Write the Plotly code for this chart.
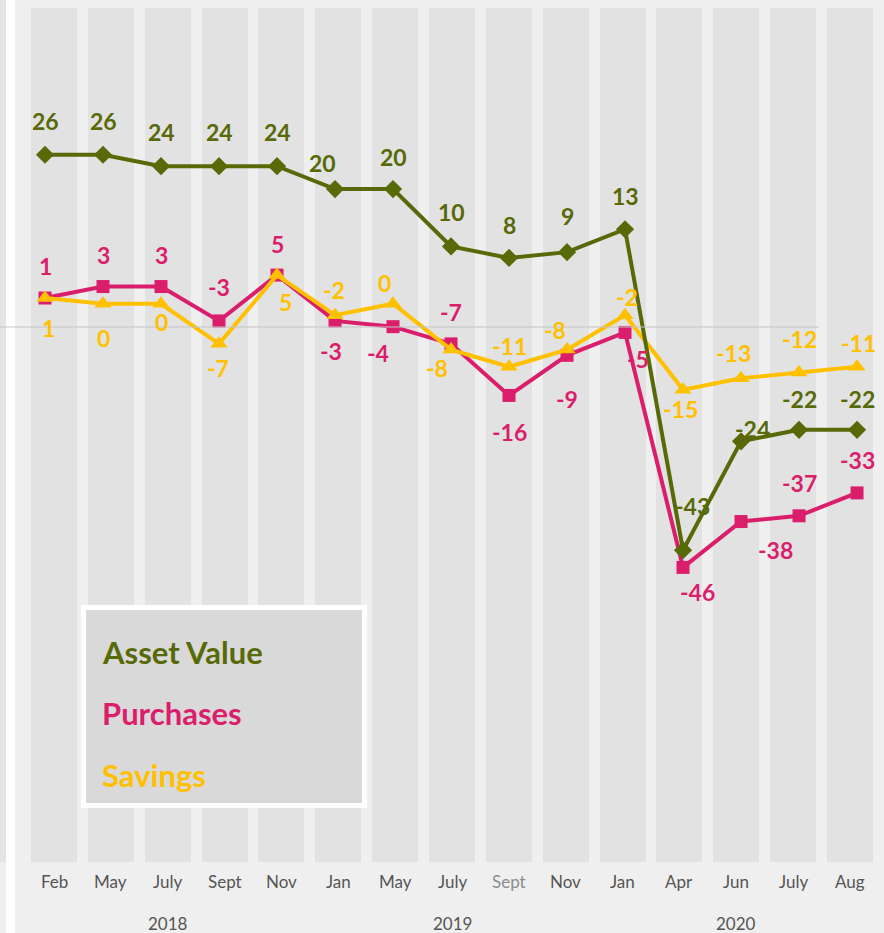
import plotly.graph_objects as go

# categories and series values
months = ['Feb', 'May', 'July', 'Sept', 'Nov', 'Jan', 'May', 'July', 'Sept', 'Nov',
          'Jan', 'Apr', 'Jun', 'July', 'Aug']
years = ['2018', '2019', '2020']
year_first = [0, 5, 10]
year_last = [4, 9, 14]
asset_value = [26, 26, 24, 24, 24, 20, 20, 10, 8, 9, 13, -43, -24, -22, -22]
purchases = [1, 3, 3, -3, 5, -3, -4, -7, -16, -9, -5, -46, -38, -37, -33]
savings = [1, 0, 0, -7, 5, -2, 0, -8, -11, -8, -2, -15, -13, -12, -11]

# label offsets in pixels (style only)
asset_dx = [0, 0, 0, 0, 0, -13, 0, 0, 0, 0, 0, 9, 11, 0, 0]
asset_dy = [34, 34, 34, 34, 34, 26, 32, 34, 33, 36, 33, 44, 12, 31, 31]
purch_dx = [0, 0, 0, 0, 0, -4, -15, 0, 0, 0, 13, 14, 34, 0, 0]
purch_dy = [32, 32, 32, 34, 31, -30, -26, 32, -37, -44, -27, -25, -28, 33, 33]
sav_dx = [3, 0, 0, -1, 8, -1, -9, -14, 0, -12, 2, -3, -8, 0, 1]
sav_dy = [-30, -34, -18, -24, -27, 25, 21, -18, 21, 20, 18, -19, 25, 34, 24]

OLIVE = '#586a08'
PINK = '#db1e6c'
GOLD = '#ffc000'
FONT = 'Lato'

idx = list(range(len(months)))
fig = go.Figure()

# background columns
fig.add_trace(go.Bar(x=idx, y=[1] * len(idx), xaxis='x', yaxis='y2', width=0.81,
                     marker=dict(color='#e2e2e2', line=dict(width=0)), hoverinfo='skip'))

series = [('Purchases', purchases, PINK, 'square', 13, purch_dx, purch_dy),
          ('Savings', savings, GOLD, 'triangle-up', 15, sav_dx, sav_dy),
          ('Asset Value', asset_value, OLIVE, 'diamond', 14, asset_dx, asset_dy)]

annotations = []
for name, vals, col, sym, msize, dxs, dys in series:
    fig.add_trace(go.Scatter(x=idx, y=vals, name=name, mode='lines+markers',
                             xaxis='x2', yaxis='y',
                             line=dict(color=col, width=4),
                             marker=dict(symbol=sym, size=msize, color=col)))
    for i, v in enumerate(vals):
        annotations.append(dict(x=i, y=v, xref='x2', yref='y', text=str(v), showarrow=False,
                                xshift=dxs[i], yshift=dys[i],
                                font=dict(family=FONT, size=23, color=col, weight='bold')))

# category labels
for i, m in enumerate(months):
    faded = (i == 8)
    annotations.append(dict(x=i, y=0, xref='x', yref='paper', text=m, showarrow=False,
                            yanchor='middle', yshift=-19,
                            font=dict(family=FONT, size=17,
                                      color='#8c8c8c' if faded else '#555555')))
# year labels
for y, a, b in zip(years, year_first, year_last):
    annotations.append(dict(x=(a + b) / 2, y=0, xref='x', yref='paper', text=y,
                            showarrow=False, yanchor='middle', yshift=-61,
                            font=dict(family=FONT, size=17, color='#555555')))

# legend text
H = 854
for name, col, py in [('Asset Value', OLIVE, 652), ('Purchases', PINK, 713), ('Savings', GOLD, 775)]:
    annotations.append(dict(x=100 / 884, y=(862 - py) / H, xref='paper', yref='paper', text=name,
                            showarrow=False, xanchor='left', yanchor='middle',
                            font=dict(family=FONT, size=31, color=col, weight='bold')))

shapes = [
    # left strip
    dict(type='rect', xref='paper', yref='paper', x0=0, x1=6 / 884, y0=0, y1=8 / H + 1,
         fillcolor='#e4e4e4', line=dict(width=0), layer='below'),
    dict(type='rect', xref='paper', yref='paper', x0=6 / 884, x1=15 / 884, y0=-71 / H, y1=8 / H + 1,
         fillcolor='white', line=dict(width=0), layer='below'),
    # reference line
    dict(type='line', xref='paper', yref='paper', x0=0, x1=819 / 884,
         y0=(862 - 327) / H, y1=(862 - 327) / H, line=dict(color='#c4c4c4', width=1)),
    # legend box
    dict(type='rect', xref='paper', yref='paper', x0=83.5 / 884, x1=364.5 / 884,
         y0=(862 - 805.5) / H, y1=(862 - 607.5) / H, fillcolor='#d9d9d9',
         line=dict(color='white', width=5)),
]

fig.update_layout(
    width=884, height=933,
    margin=dict(l=0, r=0, t=8, b=71),
    paper_bgcolor='#efefef', plot_bgcolor='rgba(0,0,0,0)',
    showlegend=False,
    xaxis=dict(range=[-0.95, 14.598], visible=False, fixedrange=True),
    xaxis2=dict(range=[-0.776, 14.465], overlaying='x', visible=False),
    yaxis=dict(range=[-97.4, 51.6], visible=False),
    yaxis2=dict(range=[0, 1], overlaying='y', visible=False),
    annotations=annotations,
    shapes=shapes,
    bargap=0,
)

# page body has a default margin; drop it so the figure sits at the window corner
fig.write_html("out.html", config={'displayModeBar': False},
               post_script="document.body.style.margin='0';document.body.style.overflow='hidden';")
